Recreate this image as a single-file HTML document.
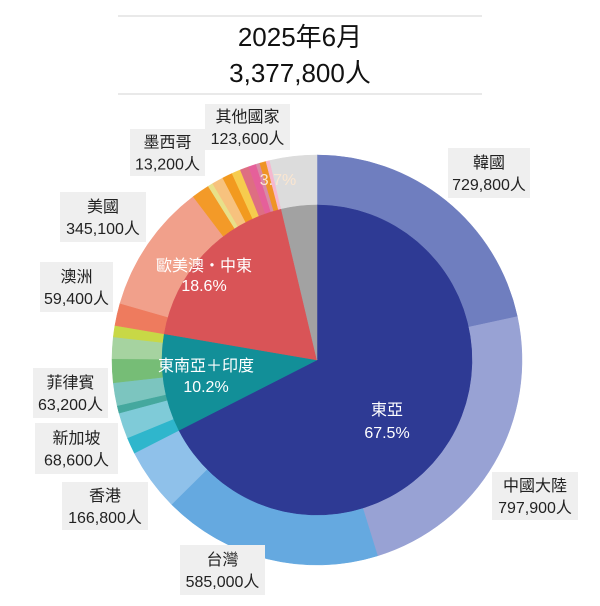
<!DOCTYPE html>
<html><head><meta charset="utf-8"><style>
body{margin:0;background:#fff;}
svg{display:block;font-family:"Liberation Sans","Noto Sans CJK TC",sans-serif;}
</style></head><body>
<svg id="s" width="600" height="606" viewBox="0 0 600 606">
<line x1="118" y1="16" x2="482" y2="16" stroke="#e2e2e2" stroke-width="1.5"/>
<line x1="118" y1="94" x2="482" y2="94" stroke="#e2e2e2" stroke-width="1.5"/>
<text x="300" y="46" font-size="26" text-anchor="middle" fill="#111">2025年6月</text>
<text x="300" y="82" font-size="26" text-anchor="middle" fill="#111">3,377,800人</text>
<g id="pie"></g>
<g id="lab" font-size="16" fill="#222" text-anchor="middle"></g>
</svg>
<script>
var cx=317,cy=360,R=205,r=155;
function pt(a,rad){var t=a*Math.PI/180;return [cx+rad*Math.sin(t),cy-rad*Math.cos(t)];}
function sector(a0,a1,r0,r1,col){
 var l=(a1-a0)>180?1:0,p0=pt(a0,r1),p1=pt(a1,r1),d;
 if(r0==0){d="M"+cx+","+cy+"L"+p0+"A"+r1+","+r1+" 0 "+l+" 1 "+p1+"Z";}
 else{var q1=pt(a1,r0),q0=pt(a0,r0);d="M"+p0+"A"+r1+","+r1+" 0 "+l+" 1 "+p1+"L"+q1+"A"+r0+","+r0+" 0 "+l+" 0 "+q0+"Z";}
 return '<path d="'+d+'" fill="'+col+'" stroke="'+col+'" stroke-width="0.5"/>';}
var outer=[[21.6,"#6f7ebf"],[23.62,"#98a2d4"],[17.32,"#65a9e0"],[4.94,"#8fc1ea"],
[1.3,"#2fb6cc"],[2.03,"#7fcbd8"],[0.6,"#45a89e"],[1.8,"#7cc5bf"],[1.87,"#76bd76"],[1.7,"#a6d3a0"],[0.9,"#c8d846"],
[1.76,"#ee7b5e"],[10.22,"#f1a08b"],[1.42,"#f39a28"],[0.4,"#e8e08a"],[0.9,"#f7c27e"],[0.8,"#f29a1f"],[0.7,"#f6cc4e"],[0.7,"#de6e82"],[0.6,"#e5609a"],[0.3,"#d98aa6"],[0.5,"#ef9426"],[0.3,"#f6b8cf"],
[3.7,"#dcdcdc"]];
var inner=[[67.5,"#2e3a94"],[10.2,"#128f98"],[18.6,"#d95457"],[3.7,"#a2a2a2"]];
var h="",a=0,tot=0;outer.forEach(function(s){tot+=s[0];});
outer.forEach(function(s){var b=a+s[0]/tot*360;h+=sector(a,b,r,R,s[1]);a=b;});
a=0;inner.forEach(function(s){var b=a+s[0]/100*360;h+=sector(a,b,0,r,s[1]);a=b;});
document.getElementById("pie").innerHTML=h;
var L=[[205,104,290,150,"其他國家","123,600人"],[130,129,205,176,"墨西哥","13,200人"],[448,148,530,198,"韓國","729,800人"],
[60,192,146,242,"美國","345,100人"],[40,262,113,312,"澳洲","59,400人"],[33,368,108,418,"菲律賓","63,200人"],
[35,423,118,474,"新加坡","68,600人"],[62,482,148,530,"香港","166,800人"],[180,545,265,595,"台灣","585,000人"],[492,472,578,520,"中國大陸","797,900人"]];
var g="";L.forEach(function(b){var mx=(b[0]+b[2])/2,my=(b[1]+b[3])/2;
g+='<rect x="'+b[0]+'" y="'+b[1]+'" width="'+(b[2]-b[0])+'" height="'+(b[3]-b[1])+'" fill="#efefef"/>';
g+='<text x="'+mx+'" y="'+(my-5)+'">'+b[4]+'</text><text x="'+mx+'" y="'+(my+17)+'">'+b[5]+'</text>';});
g+='<g fill="#fff" font-size="16"><text x="387" y="415">東亞</text><text x="387" y="438">67.5%</text>';
g+='<text x="204" y="271">歐美澳・中東</text><text x="204" y="291">18.6%</text>';
g+='<text x="206" y="371">東南亞＋印度</text><text x="206" y="392">10.2%</text></g>';
g+='<text x="278" y="185" fill="#fbe6d0" font-size="16">3.7%</text>';
document.getElementById("lab").innerHTML=g;
</script>
</body></html>
